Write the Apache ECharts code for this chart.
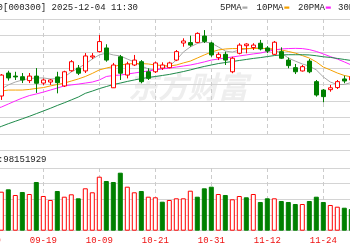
<!DOCTYPE html>
<html><head><meta charset="utf-8">
<script src="https://cdn.jsdelivr.net/npm/echarts@6/dist/echarts.min.js"></script>
<style>html,body{margin:0;padding:0;background:#fff}#c{width:350px;height:250px}</style>
</head><body><div id="c"></div>
<script>
const dates = ['09-09','09-10','09-11','09-12','09-15','09-16','09-17','09-18','09-19','09-22','09-23','09-24','09-25','09-26','09-29','09-30',
 '10-09','10-10','10-13','10-14','10-15','10-16','10-17','10-20','10-21','10-22','10-23','10-24','10-27','10-28','10-29','10-30','10-31',
 '11-03','11-04','11-05','11-06','11-07','11-10','11-11','11-12','11-13','11-14','11-17','11-18','11-19','11-20','11-21','11-24','11-25','11-26','11-27','11-28'];
const opens  = [null,null,4425,4537,4522,4519,4500,4522,4488,4493,4518,4474,4548,4561,4547,4615,4641,4659,4465,4616,4527,4576,4592,4543,4543,4561,4563,4600,4683,4685,4686,4717,4683,4612,4628,4543,4633,4670,4661,4682,4659,4628,4641,4600,4563,4547,4595,4495,4454,4456,4466,4508,4503];
const closes = [null,null,4527,4513,4518,4503,4522,4487,4503,4503,4490,4543,4592,4536,4620,4620,4690,4600,4576,4536,4581,4600,4495,4511,4586,4576,4586,4641,4693,4673,4730,4691,4625,4628,4600,4609,4673,4678,4673,4654,4644,4687,4609,4573,4543,4568,4543,4430,4422,4465,4495,4498,4519];
const lows   = [null,null,4406,4500,4503,4488,4488,4440,4479,4479,4438,4469,4543,4527,4537,4605,4637,4592,4464,4503,4511,4571,4487,4503,4537,4552,4560,4595,4665,4665,4682,4683,4616,4600,4576,4536,4628,4633,4649,4647,4634,4625,4605,4560,4532,4544,4536,4422,4394,4446,4459,4487,4498];
const highs  = [null,null,4532,4548,4543,4537,4537,4561,4510,4508,4543,4548,4600,4576,4634,4634,4722,4677,4586,4625,4592,4625,4600,4560,4592,4589,4592,4649,4706,4719,4735,4746,4689,4638,4641,4616,4682,4682,4682,4698,4668,4693,4662,4612,4581,4576,4605,4503,4459,4479,4503,4524,4527];
const volumes = [null,null,24880,26410,22780,24690,23410,31070,22140,19590,25330,21690,23220,20670,27050,24500,34450,31710,31070,37000,28070,24500,25330,21690,21310,18500,19590,20670,20670,25520,21690,27050,28070,23410,22780,20030,22140,21310,23410,18310,20670,20670,18950,18310,17030,17030,18950,21690,18310,16400,15310,14670,13840];
const volUp = [0,0,1,0,1,0,1,0,1,1,0,1,1,0,1,1,1,0,0,0,1,1,0,1,1,0,1,1,1,1,0,0,0,1,0,1,1,0,1,0,0,1,0,0,0,1,0,0,0,1,1,0,0];
const ma5  = [4435,4444,4459,4479,4493,4503,4510,4513,4513,4508,4510,4518,4542,4561,4581,4605,4625,4634,4625,4620,4605,4591,4571,4557,4552,4561,4571,4600,4639,4664,4681,4688,4683,4664,4644,4639,4649,4654,4659,4659,4654,4649,4634,4610,4595,4581,4571,4552,4518,4493,4481,4481,4491];
const ma10 = [4444,4447,4449,4454,4454,4454,4457,4462,4466,4474,4481,4488,4498,4508,4520,4535,4552,4561,4569,4576,4581,4583,4583,4581,4576,4574,4571,4576,4586,4595,4610,4625,4639,4649,4654,4656,4656,4656,4656,4657,4656,4654,4649,4642,4634,4622,4610,4591,4566,4552,4537,4525,4518];
const ma20 = [4352,4362,4371,4386,4401,4415,4427,4435,4444,4454,4464,4474,4479,4483,4488,4493,4503,4520,4525,4527,4532,4537,4542,4547,4552,4557,4561,4566,4571,4576,4583,4591,4600,4605,4610,4615,4620,4625,4630,4634,4642,4649,4654,4656,4657,4656,4651,4642,4630,4617,4605,4591,4576];
const ma30 = [4250,4263,4277,4290,4302,4314,4326,4339,4352,4365,4379,4392,4406,4420,4438,4449,4461,4471,4481,4488,4496,4503,4510,4515,4520,4525,4530,4537,4544,4552,4561,4569,4576,4583,4588,4593,4598,4603,4608,4612,4617,4622,4625,4626,4626,4626,4625,4621,4616,4613,4608,4603,4598];
const priceAxis = {min: 4240, max: 4800, step: 80};
const volAxis = {min: 0, max: 40000, step: 10000};
const titleCode = '[000300] 2025-12-04 11:30';
const titleName = '沪深300';
const volLabel = ':98151929';
const legendNames = ['5PMA','10PMA','20PMA','30PMA'];
const maColors = ['#a8a8a8','#f5a000','#ff22ff','#1e8a4a'];

const RED = '#ff0000', GREEN = '#008000';
const MONO = '"Liberation Mono", "DejaVu Sans Mono", monospace';
const kData = dates.map((d,i)=> opens[i]==null ? '-' : [opens[i],closes[i],lows[i],highs[i]]);
const vData = volumes.map((v,i)=> v==null ? '-' : {value:v, itemStyle: volUp[i] ? {color:'#fff', borderColor:RED, borderWidth:1} : {color:GREEN, borderColor:GREEN, borderWidth:1}});

const chart = echarts.init(document.getElementById('c'), null, {renderer:'canvas'});
const xCommon = (grid, showLabel) => ({
  type:'category', data:dates, gridIndex:grid, boundaryGap:false,
  axisLine:{show:false}, axisTick:{show:false},
  axisLabel:{show:showLabel, interval:7, color:'#ee1111', fontFamily:MONO, fontSize:9, margin:5, showMinLabel:true},
  splitLine:{show:true, interval:7, lineStyle:{color:'#cccccc', type:[4,3], width:1}}
});
const yCommon = (grid, ax) => ({
  type:'value', gridIndex:grid, min:ax.min, max:ax.max, interval:ax.step, scale:true,
  axisLine:{show:false}, axisTick:{show:false}, axisLabel:{show:false},
  splitLine:{show:true, lineStyle:{color:'#d4d4d4', width:1}}
});
const maSeries = [ma5,ma10,ma20,ma30].map((d,k)=>({
  name:legendNames[k], type:'line', data:d, xAxisIndex:0, yAxisIndex:0,
  showSymbol:false, symbol:'none', smooth:false, lineStyle:{width:1, color:maColors[k]}, z:3, silent:true
}));
const legendEls = [];
const lxPos = [220, 256.5, 298, 338];
legendNames.forEach((n,k)=>{
  legendEls.push({type:'text', x:lxPos[k], y:7.5, z:10, style:{text:n, fill:'#222', font:'9px '+MONO, textVerticalAlign:'middle'}});
  legendEls.push({type:'rect', x:lxPos[k]+n.length*5.4+0.8, y:6.5, z:10, shape:{width:5, height:2.2}, style:{fill:maColors[k]}});
});
const gridBase = {left:-12.7, right:-1.3, containLabel:false, outerBoundsMode:'none'};
chart.setOption({
  animation:false, backgroundColor:'#fff',
  grid:[Object.assign({top:19, height:115}, gridBase), Object.assign({top:168, height:62.7}, gridBase)],
  xAxis:[xCommon(0,false), xCommon(1,true)],
  yAxis:[yCommon(0,priceAxis), yCommon(1,volAxis)],
  series:[
    {type:'candlestick', data:kData, xAxisIndex:0, yAxisIndex:0, barWidth:5, z:4, silent:true,
     itemStyle:{color:'#fff', color0:GREEN, borderColor:RED, borderColor0:GREEN, borderWidth:1}},
    ...maSeries,
    {type:'bar', data:vData, xAxisIndex:1, yAxisIndex:1, barWidth:5, silent:true}
  ],
  graphic:[
    {type:'text', x:128, y:72, z:-1, style:{text:'东方财富', fill:'#eeeeee', font:'italic bold 30px "Noto Sans CJK SC"'}},
    {type:'line', z:1, shape:{x1:0, y1:150.5, x2:350, y2:150.5}, style:{stroke:'#d4d4d4', lineWidth:1}},
    {type:'text', x:3, y:7.5, z:10, style:{text:titleName, fill:'#222', font:'9px '+MONO, textAlign:'right', textVerticalAlign:'middle'}},
    {type:'text', x:3, y:7.5, z:10, style:{text:titleCode, fill:'#222', font:'9px '+MONO, textVerticalAlign:'middle'}},
    {type:'text', x:-2.1, y:159.5, z:10, style:{text:'成交量', fill:'#222', font:'9px '+MONO, textAlign:'right', textVerticalAlign:'middle'}},
    {type:'text', x:-2.1, y:159.5, z:10, style:{text:volLabel, fill:'#222', font:'9px '+MONO, textVerticalAlign:'middle'}},
    ...legendEls
  ]
});
</script></body></html>
